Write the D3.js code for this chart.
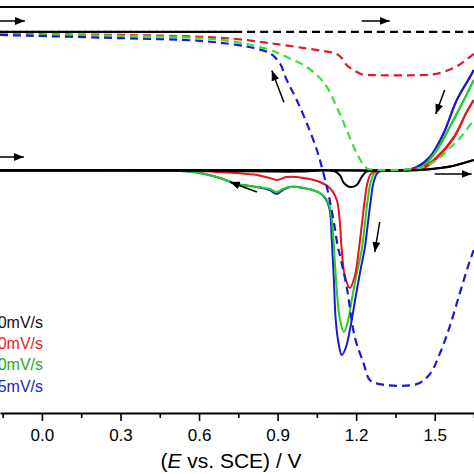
<!DOCTYPE html>
<html><head><meta charset="utf-8">
<script src="https://cdn.jsdelivr.net/npm/d3@7"></script>
<style>html,body{margin:0;padding:0;background:#fff;overflow:hidden}text{font-family:"Liberation Sans",Arial,sans-serif}</style>
</head><body><svg id="c" width="474" height="474"></svg>
<script>
// ---- data ----
const majorTicks = [0, 0.3, 0.6, 0.9, 1.2, 1.5];
const minorTicks = [-0.15, 0.15, 0.45, 0.75, 1.05, 1.35, 1.65];
const legendLabels = ["100mV/s", "50mV/s", "20mV/s", "5mV/s"];
const seriesNames = ["black", "red", "green", "blue"];

// transmittance (%) vs E (V) -- dashed
const tBlack = [[-0.16,84.5],[0.3,84.5],[0.8,84.5],[1.2,84.5],[1.65,84.5]];
const tBlackRev = [[-0.16,84.5],[0.3,84.5],[0.76,84.5]];
const tRed = [[-0.16,84.0],[0.298,83.8],[0.603,83.4],[0.744,82.9],[0.870,82.0],[1.000,80.9],[1.099,80.0],[1.126,79.6],[1.145,78.7],[1.164,77.1],[1.191,76.0],[1.221,75.1],[1.271,74.9],[1.443,74.9],[1.508,75.2],[1.573,76.5],[1.614,78.0],[1.649,79.6]];
const tGreen = [[-0.16,84.0],[0.298,83.6],[0.603,83.1],[0.744,82.2],[0.870,80.5],[0.935,78.9],[1.000,77.1],[1.050,74.9],[1.088,72.3],[1.126,67.8],[1.164,62.7],[1.202,57.6],[1.240,54.3],[1.279,53.9],[1.366,53.9],[1.454,54.5],[1.508,56.1],[1.557,58.7],[1.603,61.4],[1.649,65.0]];
const tBlue = [[-0.16,83.8],[0.298,83.1],[0.603,82.5],[0.744,81.6],[0.809,80.9],[0.870,79.8],[0.908,77.6],[0.935,73.8],[0.973,69.4],[1.011,64.3],[1.050,58.3],[1.069,54.5],[1.088,50.1],[1.099,47.2],[1.118,41.2],[1.130,36.8],[1.137,35.2],[1.164,27.9],[1.195,16.8],[1.229,10.9],[1.252,7.3],[1.290,6.4],[1.431,6.4],[1.481,8.6],[1.519,13.1],[1.557,19.1],[1.595,26.4],[1.630,33.0],[1.649,36.1]];

// current (mA) vs E (V) -- solid, forward and reverse scans
const iBlackFwd = [[-0.16,0],[0.985,0],[1.443,0],[1.519,0.01],[1.569,0.02],[1.649,0.05]];
const iBlackRev = [[-0.16,-0.004],[0.603,-0.004],[0.870,-0.008],[0.985,-0.008],[1.115,-0.005],[1.137,-0.025],[1.153,-0.065],[1.176,-0.085],[1.202,-0.075],[1.221,-0.035],[1.237,-0.01],[1.260,-0.004],[1.443,0],[1.519,0.01],[1.569,0.02],[1.649,0.05]];
const iRedFwd = [[-0.16,0],[0.985,0],[1.366,0],[1.458,0.015],[1.508,0.065],[1.573,0.165],[1.622,0.29],[1.649,0.35]];
const iRedRev = [[-0.16,-0.005],[0.603,-0.005],[0.679,-0.01],[0.744,-0.015],[0.821,-0.025],[0.870,-0.04],[0.897,-0.05],[0.935,-0.035],[1.000,-0.04],[1.061,-0.06],[1.099,-0.09],[1.126,-0.15],[1.137,-0.25],[1.145,-0.40],[1.156,-0.525],[1.176,-0.59],[1.195,-0.53],[1.210,-0.40],[1.221,-0.28],[1.233,-0.15],[1.244,-0.06],[1.260,-0.015],[1.366,-0.003],[1.458,0.01],[1.508,0.06],[1.573,0.16],[1.622,0.29],[1.649,0.35]];
const iGreenFwd = [[-0.16,0],[0.985,0],[1.405,0],[1.450,0.015],[1.508,0.10],[1.557,0.215],[1.611,0.35],[1.649,0.45]];
const iGreenRev = [[-0.16,-0.005],[0.527,-0.005],[0.603,-0.015],[0.679,-0.04],[0.744,-0.07],[0.821,-0.085],[0.870,-0.095],[0.897,-0.11],[0.920,-0.095],[0.947,-0.085],[1.000,-0.09],[1.061,-0.115],[1.084,-0.14],[1.099,-0.185],[1.111,-0.30],[1.118,-0.45],[1.126,-0.60],[1.137,-0.74],[1.153,-0.81],[1.168,-0.76],[1.183,-0.65],[1.202,-0.52],[1.221,-0.40],[1.233,-0.275],[1.244,-0.15],[1.256,-0.06],[1.275,-0.01],[1.366,-0.003],[1.450,0.012],[1.508,0.098],[1.557,0.212],[1.611,0.348],[1.649,0.45]];
const iBlueFwd = [[-0.16,0],[0.985,0],[1.385,0],[1.431,0.015],[1.481,0.065],[1.534,0.185],[1.584,0.35],[1.634,0.465],[1.649,0.50]];
const iBlueRev = [[-0.16,-0.005],[0.527,-0.005],[0.603,-0.015],[0.679,-0.04],[0.744,-0.07],[0.821,-0.085],[0.870,-0.10],[0.897,-0.12],[0.920,-0.10],[0.947,-0.085],[1.000,-0.09],[1.061,-0.115],[1.084,-0.145],[1.099,-0.20],[1.107,-0.35],[1.115,-0.55],[1.122,-0.75],[1.134,-0.875],[1.145,-0.925],[1.160,-0.89],[1.179,-0.78],[1.198,-0.635],[1.218,-0.49],[1.233,-0.39],[1.244,-0.275],[1.256,-0.15],[1.267,-0.06],[1.286,-0.01],[1.385,-0.003],[1.431,0.012],[1.481,0.062],[1.534,0.182],[1.584,0.348],[1.634,0.463],[1.649,0.50]];

// scan-direction arrows: [E0, v0, E1, v1, scale]
const arrows = [
  [-0.160, 86.9, -0.065, 86.9, "T"],
  [1.221, 86.9, 1.328, 86.9, "T"],
  [-0.160, 0.065, -0.069, 0.065, "I"],
  [0.821, -0.11, 0.718, -0.06, "I"],
  [0.924, 68.9, 0.878, 75.9, "T"],
  [1.538, 71.6, 1.504, 66.3, "T"],
  [1.290, -0.26, 1.271, -0.41, "I"],
  [1.500, -0.02, 1.641, -0.02, "I"]
];

// ---- drawing ----
const colors = {black:"#000000", red:"#e8141c", green:"#25cc25", blue:"#1a1ad4"};
const dashColors = {black:"#000000", red:"#e01a22", green:"#3ddd3d", blue:"#1a1ad4"};
const textColors = {black:"#111111", red:"#e81c24", green:"#22a822", blue:"#2525bb"};

const svg = d3.select("#c");
const x = d3.scaleLinear().domain([-0.16, 1.65]).range([0, 474]);
const yI = d3.scaleLinear().domain([-1.215, 0.815]).range([413, 7]);
const yT = d3.scaleLinear().domain([0, 90]).range([413, 7]);

const lineI = d3.line().x(d => x(d[0])).y(d => yI(d[1])).curve(d3.curveCatmullRom.alpha(0.5));
const lineT = d3.line().x(d => x(d[0])).y(d => yT(d[1])).curve(d3.curveCatmullRom.alpha(0.5));

// top frame
svg.append("line").attr("x1", x.range()[0]).attr("x2", x.range()[1])
  .attr("y1", yT.range()[1]).attr("y2", yT.range()[1])
  .attr("stroke", "#000").attr("stroke-width", 2);

const solid = {black:[iBlackFwd,iBlackRev], red:[iRedFwd,iRedRev], green:[iGreenFwd,iGreenRev], blue:[iBlueFwd,iBlueRev]};
const dashed = {black:tBlack, red:tRed, green:tGreen, blue:tBlue};

["blue","green","red","black"].forEach(k => {
  solid[k].forEach(arr => {
    svg.append("path").attr("d", lineI(arr)).attr("fill","none")
      .attr("stroke", colors[k]).attr("stroke-width", 2).attr("stroke-linejoin","round");
  });
});
// reverse black transmittance scan (overlapping, shifted dash phase)
svg.append("path").attr("d", lineT(tBlackRev)).attr("fill","none")
  .attr("stroke", "#000").attr("stroke-width", 2.2).attr("stroke-dasharray","8,5").attr("stroke-dashoffset", 6.5);
["black","red","green","blue"].forEach(k => {
  svg.append("path").attr("d", lineT(dashed[k])).attr("fill","none")
    .attr("stroke", dashColors[k]).attr("stroke-width", 2.2).attr("stroke-dasharray","8,5");
});

// arrows
const defs = svg.append("defs");
defs.append("marker").attr("id","ah").attr("viewBox","0 0 10 8").attr("refX",10).attr("refY",4)
  .attr("markerWidth",10).attr("markerHeight",8).attr("markerUnits","userSpaceOnUse").attr("orient","auto")
  .append("path").attr("d","M0,0L10,4L0,8Z").attr("fill","#000");
arrows.forEach(a => {
  const ys = a[4] === "T" ? yT : yI;
  svg.append("line").attr("x1", x(a[0])).attr("y1", ys(a[1])).attr("x2", x(a[2])).attr("y2", ys(a[3]))
    .attr("stroke","#000").attr("stroke-width",1.5).attr("marker-end","url(#ah)");
});

// legend
const legY = [328, 349, 370, 392];
seriesNames.forEach((k, i) => {
  svg.append("text").attr("x", 43).attr("y", legY[i]).attr("text-anchor","end")
    .attr("font-size", 16).attr("fill", textColors[k]).text(legendLabels[i]);
});

// x axis
const axisY = yI.range()[0];
const gA = svg.append("g").attr("transform", `translate(0,${axisY})`)
  .call(d3.axisBottom(x).tickValues(majorTicks).tickSize(8).tickSizeOuter(0).tickPadding(8).tickFormat(d3.format(".1f")));
gA.select(".domain").attr("stroke-width", 2).attr("stroke","#000");
gA.selectAll(".tick line").attr("stroke-width", 1.6);
gA.selectAll(".tick text").attr("font-size", 17).attr("fill","#000").style("font-family","Liberation Sans, Arial, sans-serif");
const gM = svg.append("g").attr("transform", `translate(0,${axisY})`)
  .call(d3.axisBottom(x).tickValues(minorTicks).tickSize(5).tickSizeOuter(0).tickFormat(""));
gM.select(".domain").remove();
gM.selectAll(".tick line").attr("stroke-width", 1.6);

const title = svg.append("text").attr("x", 231).attr("y", 468).attr("text-anchor","middle")
  .attr("font-size", 21).attr("fill","#000");
title.append("tspan").text("(");
title.append("tspan").attr("font-style","italic").text("E");
title.append("tspan").text(" vs. SCE) / V");
</script></body></html>
